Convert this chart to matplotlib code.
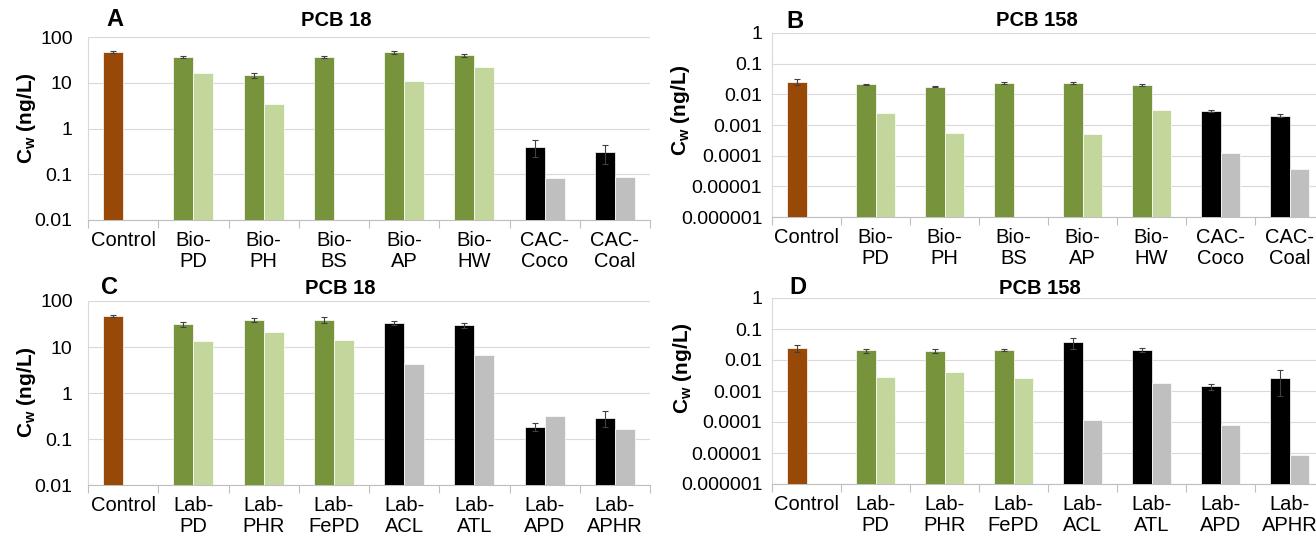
import numpy as np
import matplotlib
matplotlib.use('Agg')
import matplotlib.pyplot as plt

plt.rcParams['font.family'] = ['Liberation Sans', 'DejaVu Sans']
plt.rcParams['mathtext.fontset'] = 'custom'
plt.rcParams['mathtext.rm'] = 'Liberation Sans'
plt.rcParams['mathtext.bf'] = 'Liberation Sans:bold'

#==========
# Datos.
#==========

cat_bio = ['Control', 'Bio-\nPD', 'Bio-\nPH', 'Bio-\nBS', 'Bio-\nAP', 'Bio-\nHW', 'CAC-\nCoco', 'CAC-\nCoal']
cat_lab = ['Control', 'Lab-\nPD', 'Lab-\nPHR', 'Lab-\nFePD', 'Lab-\nACL', 'Lab-\nATL', 'Lab-\nAPD', 'Lab-\nAPHR']

tipo_bio = ['ctrl', 'bio', 'bio', 'bio', 'bio', 'bio', 'cac', 'cac']
tipo_lab = ['ctrl', 'bio', 'bio', 'bio', 'cac', 'cac', 'cac', 'cac']

# Panel A: PCB 18, biochar de campo
a_oscuro = [47, 36, 14.5, 36, 46, 40, 0.40, 0.30]
a_err = [3, 2, 1.5, 1.5, 4, 3, 0.16, 0.13]
a_claro = [np.nan, 16, 3.4, np.nan, 11, 22, 0.083, 0.088]

# Panel B: PCB 158, biochar de campo
b_oscuro = [0.026, 0.021, 0.0178, 0.023, 0.023, 0.0196, 0.0029, 0.0020]
b_err = [0.006, 0.0015, 0.0008, 0.002, 0.002, 0.0015, 0.0002, 0.0002]
b_claro = [np.nan, 0.00245, 0.00055, np.nan, 0.0005, 0.0031, 0.00012, 0.000037]

# Panel C: PCB 18, laboratorio
c_oscuro = [47, 31, 39, 39, 33, 29.5, 0.186, 0.29]
c_err = [3, 3.5, 4, 6, 3, 4, 0.04, 0.11]
c_claro = [np.nan, 13.5, 21, 14, 4.2, 6.6, 0.316, 0.165]

# Panel D: PCB 158, laboratorio
d_oscuro = [0.0248, 0.0204, 0.0194, 0.021, 0.038, 0.0213, 0.0014, 0.0027]
d_err = [0.006, 0.003, 0.003, 0.002, 0.015, 0.003, 0.0003, 0.002]
d_claro = [np.nan, 0.0029, 0.0040, 0.00266, 0.00012, 0.0018, 0.000083, 0.0000085]

ticks_18 = [0.01, 0.1, 1, 10, 100]
etiq_18 = ['0.01', '0.1', '1', '10', '100']
ticks_158 = [1e-6, 1e-5, 1e-4, 1e-3, 1e-2, 1e-1, 1]
etiq_158 = ['0.000001', '0.00001', '0.0001', '0.001', '0.01', '0.1', '1']

col_oscuro = {'ctrl': '#984807', 'bio': '#77933C', 'cac': '#000000'}
col_claro = {'ctrl': '#984807', 'bio': '#C3D69B', 'cac': '#BFBFBF'}

#==================
# Figura y paneles.
#==================

fig = plt.figure(figsize=(13.16, 5.37), dpi=100)
W, H = 1316.0, 537.0

def caja(x0, x1, ytop, ybot):
    return [x0 / W, 1 - ybot / H, (x1 - x0) / W, (ybot - ytop) / H]

def panel(pos, cats, tipos, oscuro, err, claro, ticks, etiq, ypad):
    ax = fig.add_axes(pos)
    x = np.arange(len(cats))
    w = 0.286
    ax.bar(x - w / 2, oscuro, w, color=[col_oscuro[t] for t in tipos],
           edgecolor='white', linewidth=0.5, zorder=3)
    ax.errorbar(x - w / 2, oscuro, yerr=err, fmt='none', ecolor='#404040',
                elinewidth=0.8, capsize=2, capthick=0.8, zorder=4)
    ax.bar(x + w / 2, claro, w, color=[col_claro[t] for t in tipos],
           edgecolor='white', linewidth=0.5, zorder=3)
    ax.set_yscale('log')
    ax.set_ylim(ticks[0], ticks[-1])
    ax.set_xlim(-0.5, len(cats) - 0.5)
    ax.set_yticks(ticks)
    ax.set_yticklabels(etiq)
    ax.yaxis.set_minor_locator(matplotlib.ticker.NullLocator())
    ax.set_xticks(x)
    ax.set_xticklabels(cats, fontsize=14.5, linespacing=1.15)
    ax.set_xticks(np.arange(-0.5, len(cats)), minor=True)
    ax.tick_params(axis='x', which='major', length=0, pad=8)
    ax.tick_params(axis='x', which='minor', length=6, color='#BFBFBF', width=0.8)
    ax.tick_params(axis='y', length=0, labelsize=14, pad=ypad)
    ax.grid(axis='y', color='#D9D9D9', linewidth=0.8, zorder=0)
    ax.set_axisbelow(True)
    for s in ['top', 'right']:
        ax.spines[s].set_visible(False)
    ax.spines['bottom'].set_color('#BFBFBF')
    ax.spines['left'].set_color('#D9D9D9')
    return ax

panel(caja(88, 650, 37, 220), cat_bio, tipo_bio, a_oscuro, a_err, a_claro, ticks_18, etiq_18, 11)
panel(caja(772, 1324, 33, 217), cat_bio, tipo_bio, b_oscuro, b_err, b_claro, ticks_158, etiq_158, 7)
panel(caja(88, 650, 301, 485), cat_lab, tipo_lab, c_oscuro, c_err, c_claro, ticks_18, etiq_18, 11)
panel(caja(772, 1324, 298, 484), cat_lab, tipo_lab, d_oscuro, d_err, d_claro, ticks_158, etiq_158, 7)

#=====================
# Títulos y etiquetas.
#=====================

titulos = [('A', 106, 20, 'PCB 18', 336, 21, 27, 118),
           ('B', 786, 21, 'PCB 158', 1037, 20, 681, 110),
           ('C', 101, 288, 'PCB 18', 340, 288, 26, 392),
           ('D', 789, 288, 'PCB 158', 1040, 288, 683, 368)]

for letra, lx, ly, tit, tx, ty, yx, yy in titulos:
    fig.text(lx / W, 1 - ly / H, letra, fontsize=17, fontweight='bold', ha='left', va='center')
    fig.text(tx / W, 1 - ty / H, tit, fontsize=14.5, fontweight='bold', ha='center', va='center')
    fig.text(yx / W, 1 - yy / H, r'$\mathbf{C_w}$ (ng/L)', fontsize=15, fontweight='bold',
             rotation=90, ha='center', va='center')

fig.savefig('out.png', dpi=100)
